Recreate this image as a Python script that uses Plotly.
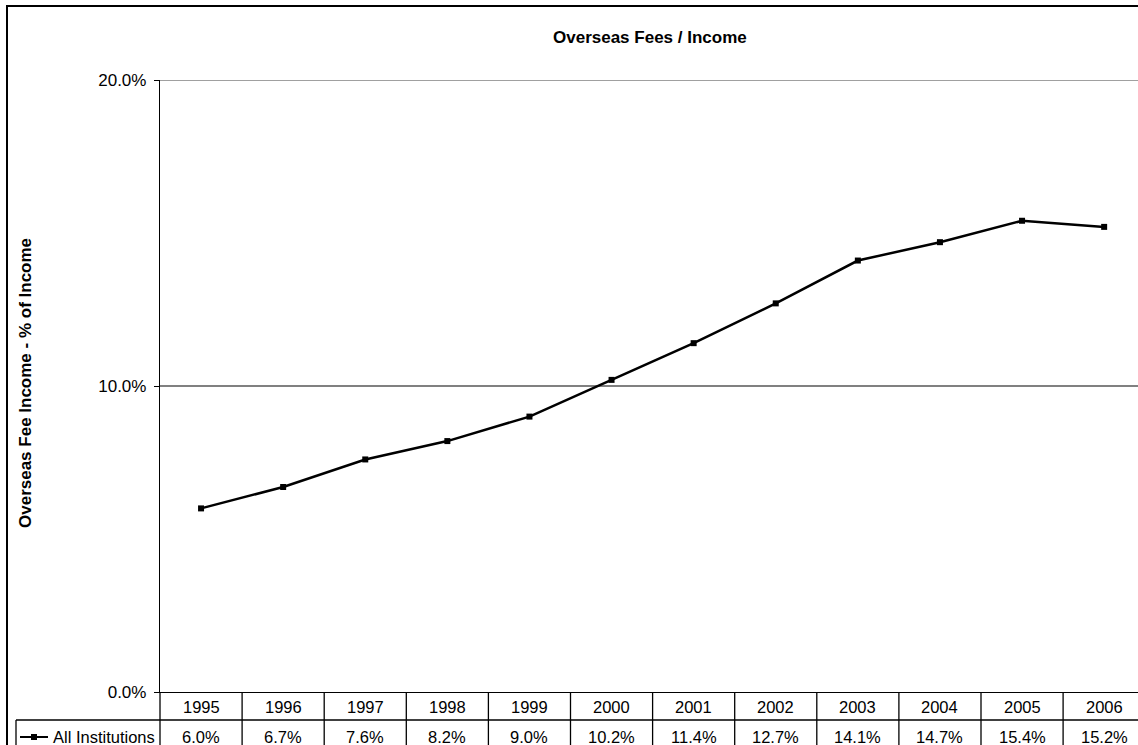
import plotly.graph_objects as go

# ---- data ----
years = ["1995", "1996", "1997", "1998", "1999", "2000", "2001", "2002", "2003", "2004", "2005", "2006"]
all_institutions = [6.0, 6.7, 7.6, 8.2, 9.0, 10.2, 11.4, 12.7, 14.1, 14.7, 15.4, 15.2]  # percent
series_name = "All Institutions"
chart_title = "Overseas Fees / Income"
y_title = "Overseas Fee Income - % of Income"
y_max = 0.2

# ---- layout geometry ----
W, H = 1138, 745
L, R, T, B = 160, 0, 80, 53
PW, PH = W - L - R, H - T - B
COL_W = 82.1
XR = [-0.5, -0.5 + PW / COL_W]
FONT = "Liberation Sans, Arial, sans-serif"


def px_x(px):
    return (px - L) / PW


def px_y(py):
    return (H - B - py) / PH


def dx(v):
    return (v - XR[0]) / (XR[1] - XR[0])


xs = list(range(len(years)))
yvals = [v / 100 for v in all_institutions]

fig = go.Figure()
fig.add_trace(go.Scatter(
    x=xs, y=yvals, mode="lines+markers", name=series_name,
    line=dict(color="black", width=2.5),
    marker=dict(symbol="square", size=6, color="black"),
    cliponaxis=False, showlegend=False,
))

shapes = []
line_blk = dict(color="black", width=1.3)
# top gridline (plotly drops it at the range edge)
shapes.append(dict(type="line", xref="paper", yref="y", x0=0, x1=1, y0=y_max, y1=y_max,
                   line=dict(color="#808080", width=1.5), layer="below"))
# outer border
shapes.append(dict(type="rect", xref="paper", yref="paper",
                   x0=px_x(7), x1=px_x(1170), y0=px_y(6), y1=px_y(780),
                   line=dict(color="black", width=2)))
# table: horizontal separator between rows
shapes.append(dict(type="line", xref="paper", yref="paper",
                   x0=px_x(16), x1=px_x(1170), y0=px_y(720), y1=px_y(720), line=line_blk))
# table: left border of legend cell
shapes.append(dict(type="line", xref="paper", yref="paper",
                   x0=px_x(16), x1=px_x(16), y0=px_y(720), y1=px_y(780), line=line_blk))
# y-axis line extension through table
shapes.append(dict(type="line", xref="paper", yref="paper",
                   x0=0, x1=0, y0=0, y1=px_y(780), line=line_blk))
# column separators
for k in range(len(years)):
    xv = dx(k + 0.5)
    if xv <= 1:
        shapes.append(dict(type="line", xref="paper", yref="paper",
                           x0=xv, x1=xv, y0=0, y1=px_y(780), line=line_blk))
# legend key
shapes.append(dict(type="line", xref="paper", yref="paper",
                   x0=px_x(20), x1=px_x(48), y0=px_y(737), y1=px_y(737),
                   line=dict(color="black", width=2)))
shapes.append(dict(type="rect", xref="paper", yref="paper",
                   x0=px_x(31), x1=px_x(37), y0=px_y(734), y1=px_y(740),
                   fillcolor="black", line=dict(width=0)))

annotations = []
annotations.append(dict(text="<b>" + chart_title + "</b>", xref="paper", yref="paper",
                        x=px_x(650), y=px_y(37), xanchor="center", yanchor="middle",
                        showarrow=False, font=dict(family=FONT, size=17, color="black")))
annotations.append(dict(text="<b>" + y_title + "</b>", xref="paper", yref="paper",
                        x=px_x(25), y=px_y(383), xanchor="center", yanchor="middle",
                        textangle=-90, showarrow=False,
                        font=dict(family=FONT, size=17, color="black")))
for k, (yr, v) in enumerate(zip(years, all_institutions)):
    annotations.append(dict(text=yr, xref="x", yref="paper", x=k, y=px_y(707),
                            xanchor="center", yanchor="middle", showarrow=False,
                            font=dict(family=FONT, size=16.5, color="black")))
    annotations.append(dict(text=f"{v:.1f}%", xref="x", yref="paper", x=k, y=px_y(737),
                            xanchor="center", yanchor="middle", showarrow=False,
                            font=dict(family=FONT, size=16.5, color="black")))
annotations.append(dict(text=series_name, xref="paper", yref="paper",
                        x=px_x(51), y=px_y(737), xanchor="left", yanchor="middle",
                        showarrow=False, font=dict(family=FONT, size=16.5, color="black")))

fig.update_layout(
    width=W, height=H,
    margin=dict(l=L, r=R, t=T, b=B, pad=0),
    paper_bgcolor="white", plot_bgcolor="white",
    showlegend=False,
    shapes=shapes, annotations=annotations,
    xaxis=dict(range=XR, showgrid=False, zeroline=False, showticklabels=False,
               ticks="", showline=True, linecolor="black", linewidth=1.3),
    yaxis=dict(range=[0, y_max], dtick=0.1, tick0=0, tickformat=".1%",
               showgrid=True, gridcolor="#808080", gridwidth=1.5, zeroline=False,
               showline=True, linecolor="black", linewidth=1.3,
               ticks="outside", ticklen=5, tickcolor="black", tickwidth=1.3,
               ticklabelstandoff=4,
               tickfont=dict(family=FONT, size=17, color="black")),
    font=dict(family=FONT, color="black"),
)

fig.write_html("out.html")
